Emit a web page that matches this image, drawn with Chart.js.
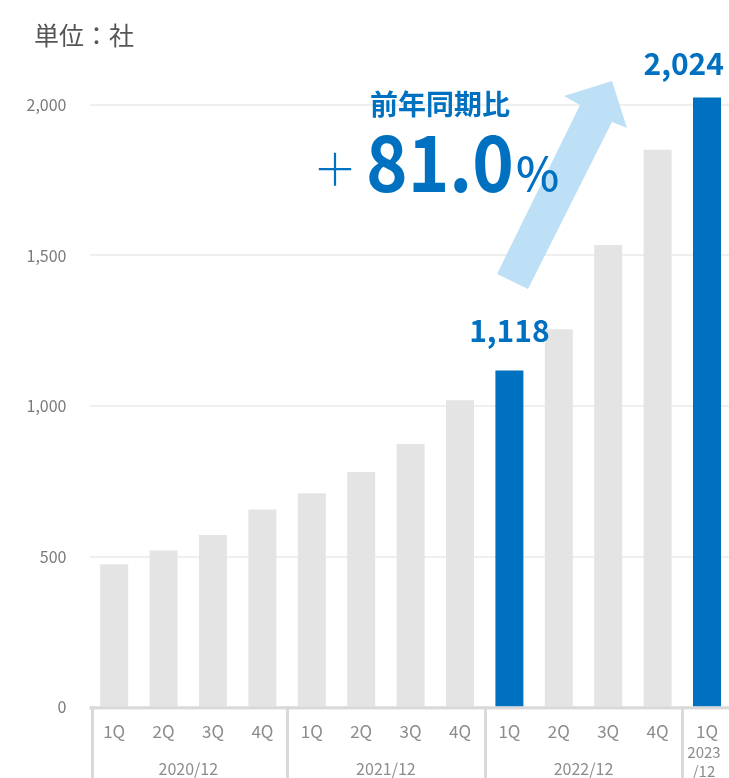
<!DOCTYPE html>
<html>
<head>
<meta charset="utf-8">
<script src="https://cdn.jsdelivr.net/npm/chart.js@4"></script>
<style>
html,body{margin:0;padding:0;background:#fff;overflow:hidden;}
#wrap{position:relative;width:740px;height:778px;}
</style>
</head>
<body>
<div id="wrap"><canvas id="c"></canvas></div>
<script>
// ---- data ----
const quarters = ['1Q','2Q','3Q','4Q','1Q','2Q','3Q','4Q','1Q','2Q','3Q','4Q','1Q'];
const fiscalYears = ['2020/12','2021/12','2022/12','2023/12'];
const quartersPerYear = [4,4,4,1];
const companies = [475,521,572,657,711,781,874,1019,1118,1255,1535,1851,2024];
const highlighted = [8,12];
const yTicks = [0,500,1000,1500,2000];
const growthTitle = '前年同期比';
const growthValue = '81.0';
const unitLabel = '単位：社';

const BLUE = '#0070C0', GRAY = '#E4E4E4', ARROW = '#BDE0F6', LINE = '#D9D9D9';
const FONT = "'Noto Sans CJK JP', 'Noto Sans', sans-serif";

const barColors = companies.map((v,i)=> highlighted.includes(i) ? BLUE : GRAY);

function fitText(ctx, txt, x, y, targetW){
  const w = ctx.measureText(txt).width;
  ctx.save();
  ctx.translate(x, y);
  ctx.scale(targetW / w, 1);
  ctx.fillText(txt, 0, 0);
  ctx.restore();
}

const overlay = {
  id:'overlay',
  afterDatasetsDraw(chart){
    const ctx = chart.ctx, ca = chart.chartArea, xs = chart.scales.x;
    const H = chart.height;
    ctx.save();
    // x axis line & separators
    ctx.fillStyle = LINE;
    ctx.fillRect(ca.left, ca.bottom-1, ca.right-ca.left, 3);
    let idx = 0;
    const bounds = [];
    const step = xs.getPixelForValue(1) - xs.getPixelForValue(0);
    fiscalYears.forEach((fy,g)=>{
      const startIdx = idx, endIdx = idx + quartersPerYear[g] - 1;
      const l = xs.getPixelForValue(startIdx) - step/2;
      const r = xs.getPixelForValue(endIdx) + step/2;
      bounds.push([l,r,fy,quartersPerYear[g]]);
      idx = endIdx+1;
    });
    bounds.forEach(([l,r],i)=>{
      ctx.fillRect(Math.round(l)+ (i===0?1:-1), ca.bottom-1, 3, H-ca.bottom+1);
    });
    // group labels
    ctx.fillStyle = '#8C8C8C';
    ctx.textAlign='center'; ctx.textBaseline='middle';
    ctx.font = "400 16px " + FONT;
    bounds.forEach(([l,r,fy,n])=>{
      const cx = (l+r)/2;
      if(n>1){ ctx.fillText(fy, cx, 769); }
      else {
        ctx.font = "400 15px " + FONT;
        const parts = fy.split('/');
        ctx.fillText(parts[0], cx-3, 752);
        ctx.fillText('/'+parts[1], cx-3, 771);
      }
    });
    // unit label
    ctx.fillStyle = '#555';
    ctx.textAlign='left'; ctx.textBaseline='middle';
    ctx.font = "400 25px " + FONT;
    ctx.fillText(unitLabel, 34, 35);

    // arrow
    ctx.fillStyle = ARROW;
    ctx.beginPath();
    [[497,274],[580,105],[564,96],[612,81],[627,128],[612,122],[528,289]].forEach((p,i)=>{
      i?ctx.lineTo(p[0],p[1]):ctx.moveTo(p[0],p[1]);
    });
    ctx.closePath(); ctx.fill();

    // growth text
    ctx.fillStyle = BLUE;
    ctx.textAlign='center'; ctx.textBaseline='middle';
    ctx.font = "700 28px " + FONT;
    ctx.fillText(growthTitle, 440, 104);
    ctx.font = "300 44px " + FONT;
    ctx.fillText('＋', 335, 169);
    ctx.textBaseline='alphabetic';
    ctx.textAlign='left';
    ctx.font = "700 78px " + FONT;
    fitText(ctx, growthValue, 366, 192, 148);
    ctx.font = "500 46px " + FONT;
    ctx.fillText('%', 516, 191);

    // value labels for highlighted bars
    const meta = chart.getDatasetMeta(0);
    const gaps = [29, 23];
    ctx.font = "700 30px " + FONT;
    ctx.textBaseline='alphabetic';
    highlighted.forEach((i,k)=>{
      const bar = meta.data[i];
      const txt = companies[i].toLocaleString('en-US');
      const w = ctx.measureText(txt).width;
      let x = bar.x - w/2;
      if (x + w > 724) x = 724 - w;
      ctx.textAlign='left';
      ctx.fillText(txt, x, bar.y - gaps[k]);
    });
    ctx.restore();
  }
};

new Chart(document.getElementById('c'), {
  type:'bar',
  data:{
    labels: quarters,
    datasets:[{
      data: companies,
      backgroundColor: barColors,
      borderWidth:0,
      barPercentage:0.567,
      categoryPercentage:1
    }]
  },
  options:{
    responsive:true,
    maintainAspectRatio:false,
    animation:false,
    layout:{padding:{top:44.5,right:8.3,bottom:0,left:0}},
    plugins:{legend:{display:false},tooltip:{enabled:false}},
    scales:{
      x:{
        grid:{display:false, drawTicks:false},
        border:{display:false},
        ticks:{color:'#8C8C8C', font:{family:FONT, size:17, weight:400}, padding:14, maxRotation:0, autoSkip:false},
        afterFit(s){ s.height = 70.6; }
      },
      y:{
        min:0, max:2200,
        afterBuildTicks(s){ s.ticks = yTicks.map(v=>({value:v})); },
        grid:{color:'#EFEFEF', lineWidth:2, drawTicks:false},
        border:{display:false},
        ticks:{color:'#7A7A7A', font:{family:FONT, size:16, weight:400}, padding:23,
          callback:(v)=>Number(v).toLocaleString('en-US')},
        afterFit(s){ s.width = 89.5; }
      }
    }
  },
  plugins:[overlay]
});
</script>
</body>
</html>
